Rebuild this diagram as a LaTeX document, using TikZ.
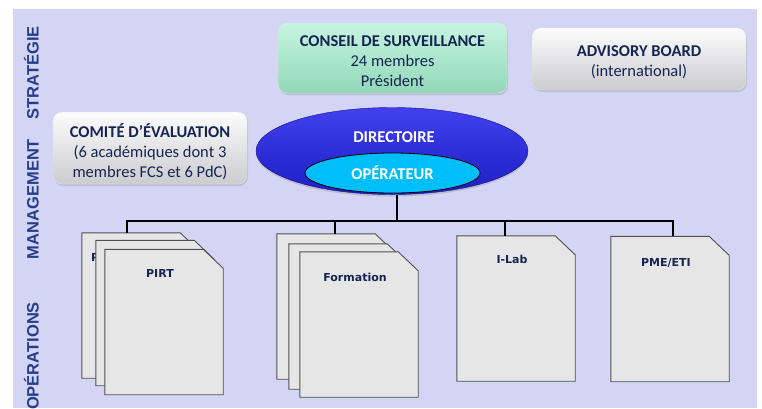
\documentclass[tikz,border=0pt]{standalone}
\usepackage{fontspec}
\setmainfont{Carlito}
\newfontfamily\sidefont{Liberation Sans}
\newfontfamily\sheetfont{DejaVu Sans}
\usepackage{tikz}
\usetikzlibrary{shapes.geometric,shadows,positioning}
\definecolor{bandlilac}{RGB}{212,212,244}
\definecolor{sidetext}{RGB}{36,62,140}
\definecolor{boxtext}{RGB}{22,36,84}
\definecolor{mintlight}{RGB}{198,244,224}
\definecolor{mintdark}{RGB}{146,216,184}
\definecolor{greylight}{RGB}{252,252,252}
\definecolor{greydark}{RGB}{204,204,208}
\definecolor{dirlight}{RGB}{64,64,238}
\definecolor{dirdark}{RGB}{30,30,196}
\definecolor{opcyan}{RGB}{0,190,250}
\definecolor{sheetfill}{RGB}{230,230,230}
\definecolor{sheetedge}{RGB}{80,80,84}

% sheet with its upper right corner cut off
\newcommand{\drawsheet}[1]{%
  \draw[sheetline] (#1.south west) -- (#1.north west) -- ([xshift=-20pt]#1.north east)
    -- ([yshift=-19pt]#1.north east) -- (#1.south east) -- cycle;}

\begin{document}
\begin{tikzpicture}[x=1pt, y=-1pt,
  board/.style={rounded corners=9pt, draw=white!80!gray, align=center, inner sep=0pt,
    text=boxtext, font=\fontsize{16.5}{20}\selectfont,
    drop shadow={opacity=0.25, shadow xshift=1pt, shadow yshift=-2pt}},
  greyboard/.style={board, top color=greylight, bottom color=greydark},
  sidelabel/.style={rotate=90, anchor=base, text=sidetext, font=\sidefont\bfseries\fontsize{16.5}{20}\selectfont},
  sheetbox/.style={minimum width=118pt, minimum height=145pt, inner sep=0pt},
  sheetline/.style={fill=sheetfill, draw=sheetedge, line width=0.9pt},
  doclabel/.style={anchor=base, inner sep=0pt, text=boxtext, font=\sheetfont\bfseries\fontsize{11}{13}\selectfont},
  link/.style={line width=2.4pt, black}
]
\useasboundingbox (0,0) rectangle (762,408);
\fill[bandlilac] (13,9) rectangle (757,408);

% levels
\node[sidelabel] (strat) at (38.5,73) {STRATÉGIE};
\node[sidelabel] (mgmt) at (38.5,199) {MANAGEMENT};
\node[sidelabel] (ops) at (38.5,356) {OPÉRATIONS};

% governance
\node[board, top color=mintlight, bottom color=mintdark, minimum width=229pt, minimum height=70pt] (conseil) at (392.5,58)
  {\rule{0pt}{18pt}\bfseries CONSEIL DE SURVEILLANCE\\24 membres\\Président};
\node[greyboard, minimum width=214pt, minimum height=62pt] (advisory) at (639,59)
  {\rule{0pt}{16.5pt}\bfseries ADVISORY BOARD\\(international)};
\node[greyboard, minimum width=194pt, minimum height=72pt] (comite) at (150,148)
  {\rule{0pt}{21pt}\bfseries COMITÉ D’ÉVALUATION\\(6 académiques dont 3\\membres FCS et 6 PdC)};

% management
\node[ellipse, minimum width=272pt, minimum height=87pt, top color=dirlight, bottom color=dirdark,
  draw=dirdark!70!black, drop shadow={opacity=0.3, shadow xshift=0pt, shadow yshift=-2pt}] (dir) at (392,151) {};
\node[text=white, font=\bfseries\fontsize{16.5}{20}\selectfont] (dirtxt) at (394,137) {DIRECTOIRE};
\node[ellipse, minimum width=175pt, minimum height=40pt, fill=opcyan, draw=black, line width=0.8pt,
  text=white, font=\bfseries\fontsize{16.5}{20}\selectfont] (op) at (392.5,173) {OPÉRATEUR};

% operations
\node[sheetbox] (pirtA) at (141,305.5) {};
\drawsheet{pirtA}
\node[doclabel, anchor=base west] (pirtAtxt) at ([xshift=9pt, yshift=-29pt]pirtA.north west) {PIRT};
\node[sheetbox] (pirtB) at (155,313) {};
\drawsheet{pirtB}
\node[sheetbox] (pirtC) at (164,322) {};
\drawsheet{pirtC}
\node[doclabel] (pirttxt) at ([xshift=-4pt, yshift=-28pt]pirtC.north) {PIRT};

\node[sheetbox] (formA) at (336,306.5) {};
\drawsheet{formA}
\node[sheetbox] (formB) at (348,316.5) {};
\drawsheet{formB}
\node[sheetbox] (formC) at (359,324.5) {};
\drawsheet{formC}
\node[doclabel] (formtxt) at ([xshift=-4pt, yshift=-29.5pt]formC.north) {Formation};

\node[sheetbox] (ilab) at (516,308.5) {};
\drawsheet{ilab}
\node[doclabel] (ilabtxt) at ([xshift=-4pt, yshift=-28pt]ilab.north) {I-Lab};

\node[sheetbox] (pme) at (670,309) {};
\drawsheet{pme}
\node[doclabel] (pmetxt) at ([xshift=-4pt, yshift=-30pt]pme.north) {PME/ETI};

\coordinate (bus) at (397,221);
\draw[link] (dir.south -| bus) -- (bus);
\draw[link] (bus) -| ([xshift=-14pt]pirtA.north);
\draw[link] (bus) -| ([xshift=-1pt]formA.north);
\draw[link] (bus) -| ([xshift=-11pt]ilab.north);
\draw[link] (bus) -| ([xshift=3pt]pme.north);

\end{tikzpicture}
\end{document}
